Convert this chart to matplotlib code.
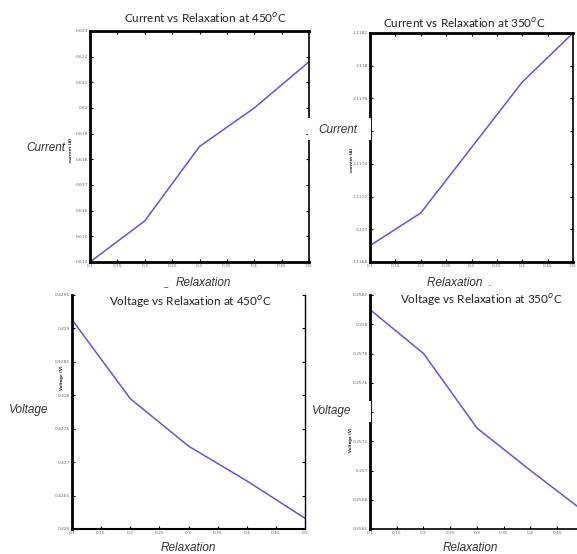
import matplotlib
matplotlib.use("Agg")
import matplotlib.pyplot as plt
from matplotlib.patches import Rectangle

W, H = 577, 554

# relaxation values (shared x)
relax = [0.1, 0.2, 0.3, 0.4, 0.5]
xticks = [0.1, 0.15, 0.2, 0.25, 0.3, 0.35, 0.4, 0.45, 0.5]

# current at 450 C / 350 C
cur_450 = [0.6140, 0.6156, 0.6185, 0.6200, 0.6218]
cur_350 = [2.11690, 2.11710, 2.11750, 2.11790, 2.11820]
# voltage at 450 C / 350 C
volt_450 = [0.42913, 0.42795, 0.42724, 0.42672, 0.42616]
volt_350 = [0.25810, 0.25780, 0.25729, 0.25700, 0.25672]

yt_cur_450 = [0.614, 0.615, 0.616, 0.617, 0.618, 0.619, 0.620, 0.621, 0.622, 0.623]
yt_cur_350 = [2.1168, 2.1170, 2.1172, 2.1174, 2.1176, 2.1178, 2.1180, 2.1182]
yt_volt_450 = [0.4260, 0.4265, 0.4270, 0.4275, 0.4280, 0.4285, 0.4290, 0.4295]
yt_volt_350 = [0.2566, 0.2568, 0.2570, 0.2572, 0.2574, 0.2576, 0.2578, 0.2580, 0.2582]

LINE = "#5a5ad8"
TICKC = "#666666"


def px_axes(fig, left, top, right, bottom):
    return fig.add_axes([left / W, 1 - bottom / H, (right - left) / W, (bottom - top) / H])


def fmt(v):
    return f"{v:.4f}".rstrip("0")


def style(ax, yvals, yticks, ylim, spines, top_ticks=True, last_x=True, hide_y=None):
    ax.plot(relax, yvals, color=LINE, lw=1.1)
    ax.set_xlim(0.1, 0.5)
    ax.set_ylim(*ylim)
    ax.set_xticks(xticks)
    labs = [fmt(t) for t in xticks]
    if not last_x:
        labs[-1] = ""
    ax.set_xticklabels(labs)
    ax.set_yticks(yticks)
    ylabs = [fmt(t) for t in yticks]
    if hide_y is not None:
        ylabs[hide_y] = ""   # covered by the pasted axis name in the original
    ax.set_yticklabels(ylabs)
    ax.tick_params(direction="in", length=2.5, width=0.8, labelsize=3.2,
                   labelcolor=TICKC, pad=1.5, top=top_ticks, right=True)
    for name, lw in spines.items():
        if lw == 0:
            ax.spines[name].set_visible(False)
        else:
            ax.spines[name].set_linewidth(lw)


fig = plt.figure(figsize=(W / 100, H / 100), dpi=100)

ax1 = px_axes(fig, 90, 31, 309, 262)
style(ax1, cur_450, yt_cur_450, (0.614, 0.623),
      {"left": 2.0, "top": 2.0, "bottom": 2.0, "right": 1.2})
ax2 = px_axes(fig, 370, 33, 573, 262)
style(ax2, cur_350, yt_cur_350, (2.1168, 2.1182),
      {"left": 2.0, "top": 2.0, "bottom": 2.0, "right": 1.2}, hide_y=4)
ax3 = px_axes(fig, 72, 295, 305, 529)
style(ax3, volt_450, yt_volt_450, (0.4260, 0.4295),
      {"left": 2.0, "top": 0, "bottom": 1.5, "right": 1.0}, top_ticks=False)
ax4 = px_axes(fig, 370, 295, 584, 529)
style(ax4, volt_350, yt_volt_350, (0.2566, 0.2582),
      {"left": 2.0, "top": 0, "bottom": 1.2, "right": 1.0}, top_ticks=False,
      last_x=False, hide_y=4)


def ftext(x, y, s, **kw):
    return fig.text(x / W, 1 - y / H, s, ha="center", va="center", **kw)


def white_box(left, top, right, bottom):
    fig.patches.append(Rectangle((left / W, 1 - bottom / H), (right - left) / W,
                                 (bottom - top) / H, transform=fig.transFigure,
                                 facecolor="white", edgecolor="none", zorder=5))


# small rotated axis names inside the tick-label gutter
sfont = dict(fontsize=2.8, fontweight="bold", rotation=90, color="#222222")
ftext(71, 150, "current (A)", **sfont)
ftext(352, 160, "current (A)", **sfont)
ftext(62, 378, "Voltage (V)", **sfont)
ftext(351, 440, "Voltage (V)", **sfont)

tfont = dict(fontsize=8.5, family="Lato", color="#222222")
ftext(205, 18, r"Current vs Relaxation at 450$^{o}$C", **tfont)
ftext(464, 23, r"Current vs Relaxation at 350$^{o}$C", **tfont)
ftext(190, 302, r"Voltage vs Relaxation at 450$^{o}$C", **tfont)
ftext(481, 300, r"Voltage vs Relaxation at 350$^{o}$C", **tfont)

lfont = dict(fontsize=8.5, style="italic", family="Liberation Sans", color="#333333")
ftext(46, 148, "Current", **lfont)
white_box(308, 118, 371, 140)
ftext(338, 130, "Current", zorder=6, **lfont)
ftext(29, 410, "Voltage", **lfont)
white_box(310, 401, 371, 422)
ftext(332, 411, "Voltage", zorder=6, **lfont)

ftext(165, 284, "_", fontsize=6, color="#555555")
ftext(203, 283, "Relaxation", **lfont)
ftext(460, 283, "Relaxation  .", **lfont)
ftext(188, 548, "Relaxation", **lfont)
ftext(470, 548, "Relaxation", **lfont)

fig.savefig("out.png", dpi=100)
